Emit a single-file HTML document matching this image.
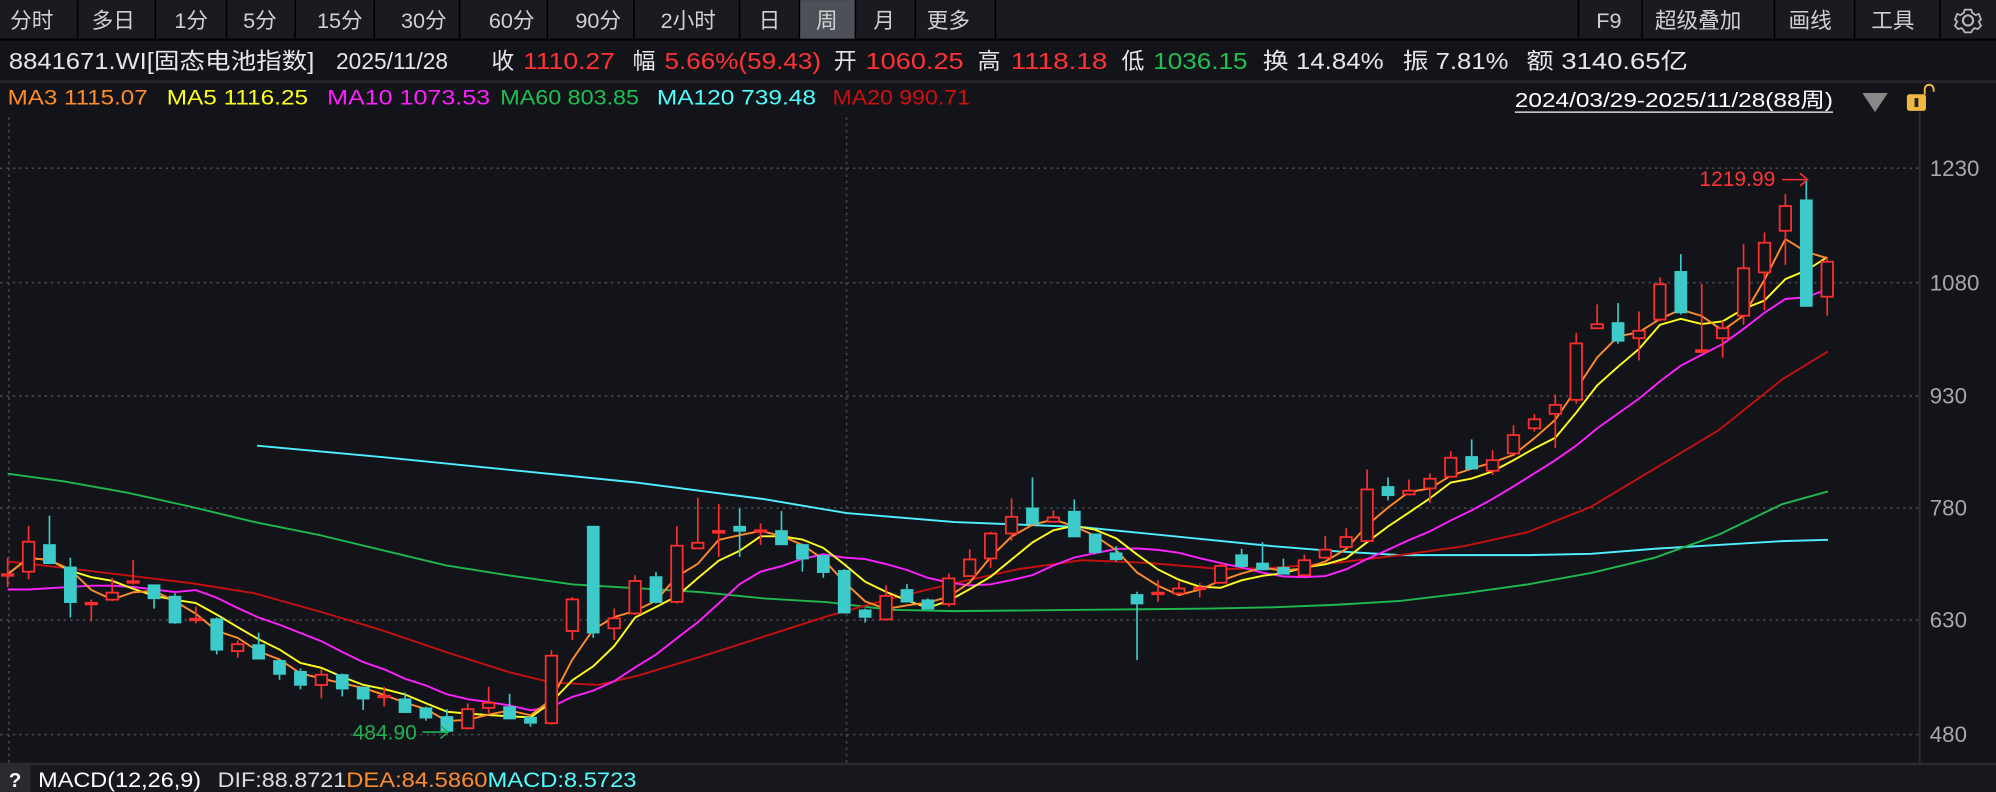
<!DOCTYPE html>
<html><head><meta charset="utf-8"><style>
html,body{margin:0;padding:0;background:#131419;width:1996px;height:792px;overflow:hidden}
svg{display:block}
text{font-family:"Liberation Sans","Noto Sans CJK SC",sans-serif}
</style></head><body>
<svg id="s" width="1996" height="792" viewBox="0 0 1568 622" xmlns="http://www.w3.org/2000/svg">
<rect x="0" y="0" width="1568" height="622" fill="#131419"/>
<rect x="0" y="0" width="1568" height="31" fill="#1a1b20"/>
<rect x="628" y="0" width="44" height="31" fill="#4d5058"/>
<line x1="0" y1="31" x2="1568" y2="31" stroke="#000" stroke-width="1.5"/>
<g stroke="#000" stroke-width="1.2">
<line x1="61" y1="0" x2="61" y2="31"/><line x1="122" y1="0" x2="122" y2="31"/><line x1="178" y1="0" x2="178" y2="31"/><line x1="232" y1="0" x2="232" y2="31"/><line x1="294" y1="0" x2="294" y2="31"/><line x1="361" y1="0" x2="361" y2="31"/><line x1="430" y1="0" x2="430" y2="31"/><line x1="498" y1="0" x2="498" y2="31"/><line x1="581" y1="0" x2="581" y2="31"/><line x1="628" y1="0" x2="628" y2="31"/><line x1="672" y1="0" x2="672" y2="31"/><line x1="719" y1="0" x2="719" y2="31"/><line x1="782" y1="0" x2="782" y2="31"/>
<line x1="1240" y1="0" x2="1240" y2="31"/><line x1="1290" y1="0" x2="1290" y2="31"/><line x1="1394" y1="0" x2="1394" y2="31"/><line x1="1457" y1="0" x2="1457" y2="31"/><line x1="1524" y1="0" x2="1524" y2="31"/>
</g>
<g fill="#d0d0d0" font-size="17">
<text x="8" y="22">分时</text><text x="72" y="22">多日</text><text x="137" y="22">1分</text><text x="191" y="22">5分</text><text x="249" y="22">15分</text><text x="315" y="22">30分</text><text x="384" y="22">60分</text><text x="452" y="22">90分</text><text x="519" y="22">2小时</text><text x="596" y="22">日</text><text x="641" y="22">周</text><text x="686" y="22">月</text><text x="728" y="22">更多</text>
<text x="1254" y="22">F9</text><text x="1300" y="22">超级叠加</text><text x="1405" y="22">画线</text><text x="1470" y="22">工具</text>
</g>
<g transform="translate(1546,16)" fill="none" stroke="#bbb" stroke-width="1.6">
<circle r="4"/>
<path d="M-3,-10 L3,-10 L4,-7 L7,-5 L10,-6 L12,-1 L10,1 L12,5 L9,8 L6,7 L4,9 L3,11 L-3,11 L-4,9 L-6,7 L-9,8 L-12,5 L-10,1 L-12,-1 L-10,-6 L-7,-5 L-4,-7 Z" transform="scale(0.85)"/>
</g>
<g font-size="18" lengthAdjust="spacingAndGlyphs">
<text x="7" y="54" fill="#e6e6e6" textLength="240" lengthAdjust="spacingAndGlyphs">8841671.WI[固态电池指数]</text>
<text x="264" y="54" fill="#e6e6e6" textLength="88" lengthAdjust="spacingAndGlyphs">2025/11/28</text>
<text x="386" y="54" fill="#e6e6e6">收</text><text x="411" y="54" fill="#ff3333" textLength="72" lengthAdjust="spacingAndGlyphs">1110.27</text>
<text x="497" y="54" fill="#e6e6e6">幅</text><text x="522" y="54" fill="#ff3333" textLength="123" lengthAdjust="spacingAndGlyphs">5.66%(59.43)</text>
<text x="655" y="54" fill="#e6e6e6">开</text><text x="680" y="54" fill="#ff3333" textLength="77" lengthAdjust="spacingAndGlyphs">1060.25</text>
<text x="768" y="54" fill="#e6e6e6">高</text><text x="794" y="54" fill="#ff3333" textLength="76" lengthAdjust="spacingAndGlyphs">1118.18</text>
<text x="881" y="54" fill="#e6e6e6">低</text><text x="906" y="54" fill="#20c050" textLength="74" lengthAdjust="spacingAndGlyphs">1036.15</text>
<text x="992" y="54" fill="#e6e6e6" textLength="95" lengthAdjust="spacingAndGlyphs">换 14.84%</text>
<text x="1102" y="54" fill="#e6e6e6" textLength="83" lengthAdjust="spacingAndGlyphs">振 7.81%</text>
<text x="1199" y="54" fill="#e6e6e6" textLength="127" lengthAdjust="spacingAndGlyphs">额 3140.65亿</text>
</g>
<line x1="0" y1="64" x2="1568" y2="64" stroke="#26272c" stroke-width="2"/>
<g font-size="17">
<text x="6" y="82" fill="#ff8c2a" textLength="110" lengthAdjust="spacingAndGlyphs">MA3 1115.07</text>
<text x="131" y="82" fill="#ffff20" textLength="111" lengthAdjust="spacingAndGlyphs">MA5 1116.25</text>
<text x="257" y="82" fill="#ff20ff" textLength="128" lengthAdjust="spacingAndGlyphs">MA10 1073.53</text>
<text x="393" y="82" fill="#20c050" textLength="109" lengthAdjust="spacingAndGlyphs">MA60 803.85</text>
<text x="516" y="82" fill="#50ffff" textLength="125" lengthAdjust="spacingAndGlyphs">MA120 739.48</text>
<text x="654" y="82" fill="#cc1010" textLength="108" lengthAdjust="spacingAndGlyphs">MA20 990.71</text>
</g>
<text x="1190" y="84" fill="#fff" font-size="16" textLength="250" lengthAdjust="spacingAndGlyphs">2024/03/29-2025/11/28(88周)</text>
<line x1="1190" y1="88" x2="1440" y2="88" stroke="#fff" stroke-width="1"/>
<path d="M1463,73 L1483,73 L1473,88 Z" fill="#888"/>
<rect x="1498" y="74" width="15" height="13" rx="2" fill="#f0b840"/>
<rect x="1504" y="77" width="3" height="7" fill="#222"/>
<path d="M1512,74 L1512,70 A3.5,3.5 0 0 1 1519,70 L1519,72" fill="none" stroke="#f0b840" stroke-width="1.5"/>
<line x1="1508" y1="88" x2="1508" y2="600" stroke="#2c2d32" stroke-width="1.5"/>
<g stroke="#44464c" stroke-width="1.3" stroke-dasharray="2,3">
<line x1="0" y1="132" x2="1508" y2="132"/><line x1="0" y1="222" x2="1508" y2="222"/><line x1="0" y1="311" x2="1508" y2="311"/><line x1="0" y1="399" x2="1508" y2="399"/><line x1="0" y1="487" x2="1508" y2="487"/><line x1="0" y1="577" x2="1508" y2="577"/>
<line x1="7" y1="92" x2="7" y2="600"/><line x1="665" y1="92" x2="665" y2="600"/>
</g>
<g fill="#a8a8a8" font-size="17.5">
<text x="1516" y="138">1230</text><text x="1516" y="228">1080</text><text x="1516" y="317">930</text><text x="1516" y="405">780</text><text x="1516" y="493">630</text><text x="1516" y="583">480</text>
</g>
<g id="ma" fill="none" stroke-width="1.5"></g>
<g id="cd"></g>
<text x="1335" y="146" fill="#ff3333" font-size="16.5">1219.99</text>
<path d="M1400,141 L1420,141 M1414,136 L1420,141 L1414,146" stroke="#ff3333" fill="none" stroke-width="1.2"/>
<text x="277" y="581" fill="#20b050" font-size="16.5">484.90</text>
<path d="M332,575 L352,575 M346,570 L352,575 L346,580" stroke="#20b050" fill="none" stroke-width="1.2"/>
<rect x="0" y="600" width="1568" height="22" fill="#17181d"/>
<line x1="0" y1="600" x2="1568" y2="600" stroke="#2a2b30" stroke-width="2"/>
<rect x="0" y="601" width="24" height="21" fill="#2a2b30"/>
<text x="7" y="618" fill="#fff" font-size="16" font-weight="bold">?</text>
<g font-size="17">
<text x="30" y="618" fill="#fff" textLength="128" lengthAdjust="spacingAndGlyphs">MACD(12,26,9)</text>
<text x="171" y="618" fill="#ddd" textLength="101" lengthAdjust="spacingAndGlyphs">DIF:88.8721</text>
<text x="272" y="618" fill="#ff8c2a" textLength="111" lengthAdjust="spacingAndGlyphs">DEA:84.5860</text>
<text x="383" y="618" fill="#50ffff" textLength="117" lengthAdjust="spacingAndGlyphs">MACD:8.5723</text>
</g>
</svg>
<script>
var C=[
[1,451,452,438,461],[1,425.5,449,413,455],[0,427.4,443,405,443],[0,445,473.6,438,485],[1,473.5,474.5,471,488],
[1,465.5,471,454,472],[1,456.5,457.5,440,459],[0,459,470.6,459,478],[0,468,489.6,466,490],[1,486,487,476.6,489.6],
[0,485.7,511,485,514],[1,506,511.4,503,516.5],[0,506,518,497,518],[0,518.5,530,518,534],[0,527,538.6,525,541.5],
[1,530,538,525.6,548.6],[0,529.5,541.5,529,547],[0,539.5,549.4,539,557.7],[1,546.5,547.5,539.5,555],[0,548.6,560,544,560],
[0,555.7,564.3,555,566],[0,562.5,574.8,557,575],[1,557,572,552.5,573],[1,552,556,539.5,560],[0,554.7,565,545,565],
[0,563,568.4,563,570.8],[1,515,568,510.6,569],[1,470.8,495.6,469,502.7],[0,413,497.5,413,501],[1,485.7,493.5,478,502.7],
[1,456.3,481.8,451.8,483],[0,452.6,473.5,449.3,474],[1,428.6,472.7,413.2,474],[1,426.3,430.7,391,431],[1,417,418.4,395.9,437.3],
[0,413,417.6,399.3,437.3],[1,416.5,417.5,411,428],[0,416.4,428.2,401.4,428.2],[0,427.4,439.4,427,449],[0,436,450,436,453.8],
[0,447.7,481.8,447,482],[0,478.7,485.2,478,489],[1,468,486.5,459.6,487],[0,462.7,473.2,458.8,473.2],[0,470.8,478.7,470,478.7],
[1,454.3,474.5,450.5,476.6],[1,439.4,452.5,431.5,453],[1,419,438.6,417.7,446],[1,405.9,419,391.5,424.7],[0,398.6,411.7,375,412],
[1,406.4,409.8,400.7,410],[0,401.2,422,392.3,422],[0,419,434.3,419,435],[0,433.9,439.9,429,441],[0,466.6,474.7,464.8,518.5],
[1,465.5,466.5,455.6,472.7],[1,462.2,466.1,457,466.1],[1,461.5,462.5,458,469.2],[1,444.5,457.7,442,458],[0,435.4,445.3,431,446],
[0,441.9,447.9,425.9,448],[0,445.3,451.3,438.8,451.3],[1,440,451.8,435.7,452],[1,431.7,438,421,439],[1,421.8,429.6,414.9,430],
[1,384.4,424.9,368.7,425],[0,381.8,389.6,375,393],[1,385.4,388.3,376.6,389],[1,376,383.6,371.8,394.9],[1,359.5,374.4,354.3,375],
[0,358.2,368.7,345.1,369],[1,361.4,369.7,353.5,373],[1,341.7,356.1,334,357],[1,329.3,336.4,325.2,339],[1,318,325,309.8,352],
[1,269.7,314,261.3,317],[1,254.6,257.8,239,258.5],[0,253,268.3,238,270],[1,259.8,265.6,244.6,283],[1,223.3,251,217.8,252],
[0,212.8,246,199.5,247],[1,275,276.4,223,276.4],[1,257.8,265.6,252,281],[1,210.7,247.9,191.7,255],[1,190.6,213.9,182.5,243.5],
[1,161.8,181.2,152.4,208],[0,156.6,240.9,140.1,241],[1,205.5,233,203,247.9]];
var ns="http://www.w3.org/2000/svg",cd=document.getElementById('cd'),ma=document.getElementById('ma');
function X(i){return 6+i*16.43;}
function el(t,a,p){var e=document.createElementNS(ns,t);for(var k in a)e.setAttribute(k,a[k]);p.appendChild(e);return e;}
var closes=[];
C.forEach(function(c,i){var x=X(i),red=c[0]==1,col=red?'#ff2e2e':'#3ccaca';
closes.push(red?c[1]:c[2]);
el('line',{x1:x,y1:c[3],x2:x,y2:c[1],stroke:col,'stroke-width':1.3},cd);
el('line',{x1:x,y1:c[2],x2:x,y2:c[4],stroke:col,'stroke-width':1.3},cd);
var h=Math.max(c[2]-c[1],1.2);
if(red)el('rect',{x:x-4.5,y:c[1],width:9,height:h,fill:'#131419',stroke:col,'stroke-width':1.4},cd);
else el('rect',{x:x-5,y:c[1],width:10,height:h,fill:col},cd);});
function pl(pts,col,w){el('polyline',{points:pts.map(function(p){return p[0]+','+p[1]}).join(' '),stroke:col,'stroke-width':w||1.5,fill:'none'},ma);}
function maN(n){var r=[];for(var i=0;i<closes.length;i++){var s=0,k=0;for(var j=Math.max(0,i-n+1);j<=i;j++){s+=closes[j];k++;}r.push([X(i),s/k]);}return r;}
pl([[202,350],[300,359],[400,369],[500,379],[600,392],[665,403],[750,410],[850,414],[950,424],[1000,429],[1050,433],[1100,436],[1200,436],[1250,435],[1300,431],[1350,428],[1400,425],[1436,424]],'#50f0ff');
pl([[6,372],[50,378],[100,387],[150,398],[200,410],[250,420],[300,432],[350,444],[400,452],[450,459],[500,462],[550,465],[600,470],[650,473],[700,479],[750,480],[850,479],[950,478],[1000,477],[1050,475],[1100,472],[1150,466],[1200,459],[1250,450],[1300,438],[1350,420],[1400,396],[1436,386]],'#1fb84f');
pl([[6,441],[50,446],[100,452],[150,458],[200,466],[250,480],[300,495],[350,512],[400,528],[433,536],[470,538],[500,531],[550,516],[600,500],[650,484],[700,470],[750,458],[800,447],[850,440],[900,442],[960,447],[1000,446],[1050,442],[1100,436],[1150,429],[1200,418],[1250,398],[1300,368],[1350,338],[1400,298],[1436,276]],'#c41010');
var m10=maN(10);for(var i=0;i<9;i++)m10[i][1]=[463,463,462,461,460,460,461,463,465][i];
pl(m10,'#ff20ff');pl(maN(5),'#ffff20');pl(maN(3),'#ff8c2a');
</script>
</body></html>
